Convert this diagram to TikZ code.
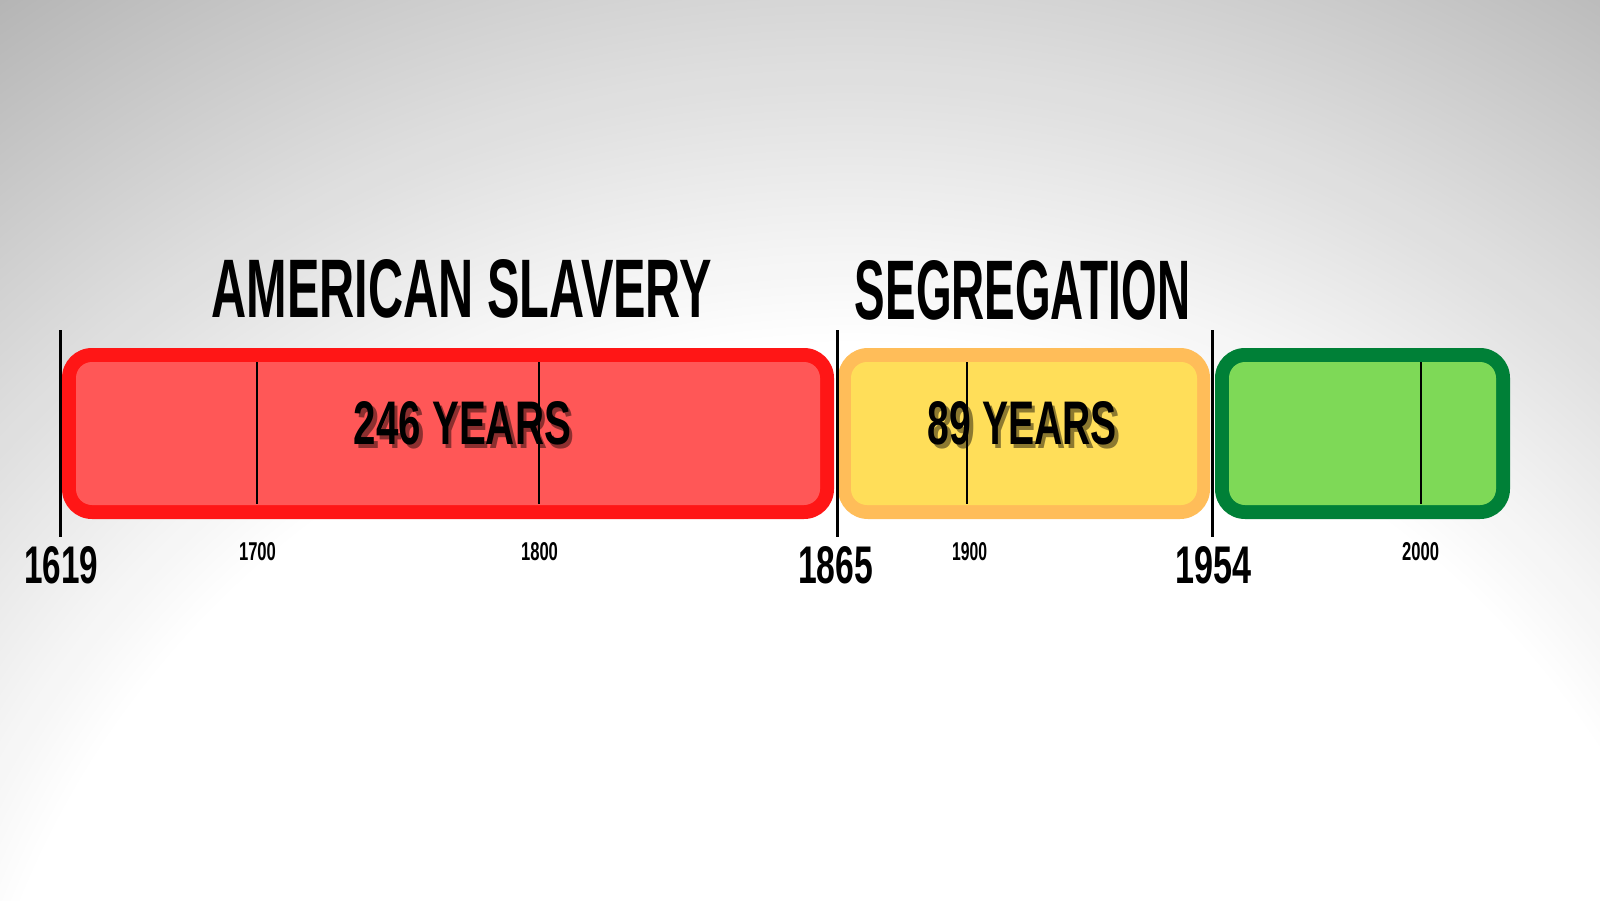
\documentclass[tikz,border=0pt]{standalone}
\usepackage{fontspec}
\setmainfont{Liberation Sans}
\definecolor{redB}{HTML}{FF1616}
\definecolor{redF}{HTML}{FF5757}
\definecolor{yelB}{HTML}{FFBD59}
\definecolor{yelF}{HTML}{FFDE59}
\definecolor{grnB}{HTML}{008037}
\definecolor{grnF}{HTML}{7ED957}
\newcommand{\fitbox}[3]{\resizebox{#1pt}{#2pt}{\bfseries #3}}
\tikzset{
  txt/.style={inner sep=0pt, outer sep=0pt, anchor=center, text=black},
  shadowtxt/.style={inner sep=0pt, outer sep=0pt, anchor=center, text=black, text opacity=0.45},
  barouter/.style={fill=#1, rounded corners=30pt},
  barinner/.style={fill=#1, rounded corners=16pt},
  eraline/.style={draw=black, line width=3pt},
  tickline/.style={draw=black, line width=1.8pt}
}
\begin{document}
\begin{tikzpicture}[x=1pt,y=-1pt]
\useasboundingbox (0,0) rectangle (1600,900);
\begin{scope}
  \clip (0,0) rectangle (1600,900);
  \foreach \r in {1600,1592,...,888} {
    \pgfmathsetmacro{\b}{\r/32}
    \pgfmathsetmacro{\g}{\b<=28 ? 1 : (\b<=36 ? 1-(\b-28)/8*0.12 : (\b<=40 ? 0.88-(\b-36)/4*0.06 : (\b<=47.5 ? 0.82-(\b-40)/7.5*0.12 : 0.70)))}
    \definecolor{bgc}{gray}{\g}
    \fill[bgc] (850,1237) circle (\r);
  }
\end{scope}
% bars
\fill[barouter=redB] (62,348) rectangle (834,519);
\fill[barinner=redF] (76,362) rectangle (820,505);
\fill[barouter=yelB] (838,348) rectangle (1210,519);
\fill[barinner=yelF] (851,362) rectangle (1197,505);
\fill[barouter=grnB] (1215,348) rectangle (1510,519);
\fill[barinner=grnF] (1229,362) rectangle (1496,505);
% ticks inside bars
\coordinate (t1700a) at (257,362); \coordinate (t1700b) at (257,504);
\coordinate (t1800a) at (539,362); \coordinate (t1800b) at (539,504);
\coordinate (t1900a) at (967,362); \coordinate (t1900b) at (967,504);
\coordinate (t2000a) at (1421,362); \coordinate (t2000b) at (1421,504);
\draw[tickline] (t1700a) -- (t1700b);
\draw[tickline] (t1800a) -- (t1800b);
\draw[tickline] (t2000a) -- (t2000b);
% era lines
\coordinate (e1619a) at (60,330); \coordinate (e1619b) at (60,537);
\coordinate (e1865a) at (837,330); \coordinate (e1865b) at (837,537);
\coordinate (e1954a) at (1212.5,330); \coordinate (e1954b) at (1212.5,537);
\draw[eraline] (e1619a) -- (e1619b);
\draw[eraline] (e1865a) -- (e1865b);
\draw[eraline] (e1954a) -- (e1954b);
% titles
\node[txt] (tslav) at (461.7,289) {\fitbox{500}{58}{AMERICAN SLAVERY}};
\node[txt] (tseg) at (1022.5,290) {\fitbox{335}{59}{SEGREGATION}};
% durations
\node[shadowtxt] (s246) at (466,427.5) {\fitbox{217}{43}{246 YEARS}};
\node[txt] (d246) at (462.5,423.5) {\fitbox{217}{43}{246 YEARS}};
\node[shadowtxt] (s89) at (1026,427.5) {\fitbox{189}{43}{89 YEARS}};
\draw[tickline] (t1900a) -- (t1900b);
\node[txt] (d89) at (1022.5,423.5) {\fitbox{189}{43}{89 YEARS}};
% big year labels
\node[txt] (y1619) at (61.5,565) {\fitbox{74}{37}{1619}};
\node[txt] (y1865) at (835.5,565) {\fitbox{75}{37}{1865}};
\node[txt] (y1954) at (1213.5,565) {\fitbox{76}{37}{1954}};
% small year labels
\node[txt] (y1700) at (257.5,552) {\fitbox{37}{18}{1700}};
\node[txt] (y1800) at (539.5,552) {\fitbox{37}{18}{1800}};
\node[txt] (y1900) at (969.5,552) {\fitbox{35}{18}{1900}};
\node[txt] (y2000) at (1420.5,552) {\fitbox{37}{18}{2000}};
\end{tikzpicture}
\end{document}
